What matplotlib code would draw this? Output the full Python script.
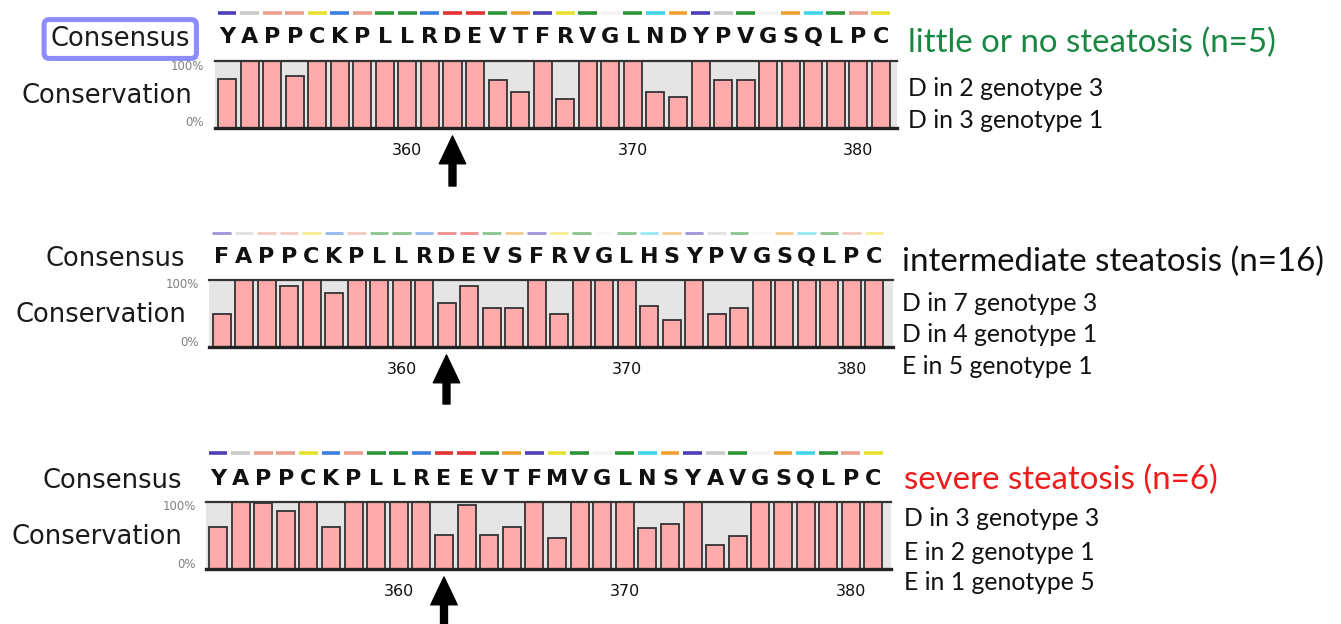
import matplotlib
matplotlib.use("Agg")
import matplotlib.pyplot as plt

W, H = 1341, 624

# residue numbers shown under the bars
positions = list(range(352, 382))
tick_positions = [360, 370, 380]
marked_position = 362

# consensus sequences per group
seq_little = "YAPPCKPLLRDEVTFRVGLNDYPVGSQLPC"
seq_inter = "FAPPCKPLLRDEVSFRVGLHSYPVGSQLPC"
seq_severe = "YAPPCKPLLREEVTFMVGLNSYAVGSQLPC"

# conservation (fraction) per position
cons_little = [0.73, 1, 1, 0.77, 1, 1, 1, 1, 1, 1, 1, 1, 0.71, 0.54, 1,
               0.44, 1, 1, 1, 0.53, 0.46, 1, 0.71, 0.71, 1, 1, 1, 1, 1, 1]
cons_inter = [0.49, 1, 1, 0.91, 1, 0.81, 1, 1, 1, 1, 0.66, 0.91, 0.585, 0.585, 1,
              0.49, 1, 1, 1, 0.61, 0.41, 1, 0.49, 0.585, 1, 1, 1, 1, 1, 1]
cons_severe = [0.62, 1, 0.98, 0.86, 1, 0.62, 1, 1, 1, 1, 0.51, 0.95, 0.51, 0.62, 1,
               0.465, 1, 1, 1, 0.61, 0.665, 1, 0.36, 0.49, 1, 1, 1, 1, 1, 1]

# colour strip above each column
strip_colors = ["#4a3fb8", "#c9c9c9", "#e8a08c", "#e8a08c", "#e4e030", "#3b7fe0",
                "#e8a08c", "#2b9434", "#2b9434", "#3b7fe0", "#e23232", "#e23232",
                "#2b9434", "#f0a030", "#4a3fb8", "#e4e030", "#2b9434", "#f6f2f2",
                "#2b9434", "#40d6e8", "#f0a030", "#4a3fb8", "#c9c9c9", "#2b9434",
                "#f6f2f2", "#f0a030", "#40d6e8", "#2b9434", "#e8a08c", "#e4e030"]

headings = ["little or no steatosis (n=5)", "intermediate steatosis (n=16)",
            "severe steatosis (n=6)"]
heading_colors = ["#1a8742", "#111111", "#ee1c1c"]
notes_little = ["D in 2 genotype 3", "D in 3 genotype 1"]
notes_inter = ["D in 7 genotype 3", "D in 4 genotype 1", "E in 5 genotype 1"]
notes_severe = ["D in 3 genotype 3", "E in 2 genotype 1", "E in 1 genotype 5"]

panels = [
    (seq_little, cons_little, notes_little),
    (seq_inter, cons_inter, notes_inter),
    (seq_severe, cons_severe, notes_severe),
]

# pixel layout of each panel
layout = [
    dict(gl=215, gr=897, first=218, pitch=22.55, bot=128, strip=13, letters=37,
         cons_y=39, cons_r=190, consv_y=96, consv_r=192, tip=136, tail=186,
         hx=908, hy=43, subs=[88, 120], pct_r=204, p100=67, p0=122, strip_alpha=1.0),
    dict(gl=209, gr=893, first=212.5, pitch=22.5, bot=347, strip=233, letters=257,
         cons_y=259, cons_r=185, consv_y=315, consv_r=186, tip=355, tail=404,
         hx=902, hy=262, subs=[303, 335, 367], pct_r=199, p100=285, p0=342, strip_alpha=0.55),
    dict(gl=206, gr=891, first=209, pitch=22.6, bot=569, strip=453, letters=479,
         cons_y=481, cons_r=182, consv_y=537, consv_r=182, tip=577, tail=630,
         hx=904, hy=480, subs=[518, 552, 583], pct_r=196, p100=507, p0=564, strip_alpha=1.0),
]
BAR_H = 67


def fx(x):
    return x / W


def fy(y):
    return 1 - y / H


fig = plt.figure(figsize=(W / 100, H / 100), dpi=100)

for k, ((seq, cons, notes), L) in enumerate(zip(panels, layout)):
    ax = fig.add_axes([fx(L["gl"]), fy(L["bot"]), (L["gr"] - L["gl"]) / W, BAR_H / H])
    c0 = L["first"] + 9
    ax.set_xlim(positions[0] + (L["gl"] - c0) / L["pitch"],
                positions[0] + (L["gr"] - c0) / L["pitch"])
    ax.set_ylim(0, 1)
    ax.set_facecolor("#e5e5e5")
    ax.bar(positions, cons, width=0.8, color="#ffabab", edgecolor="#333333", linewidth=1.3)

    for side in ["left", "right"]:
        ax.spines[side].set_visible(False)
    ax.spines["top"].set_color("#333333")
    ax.spines["top"].set_linewidth(1.6)
    ax.spines["bottom"].set_color("#222222")
    ax.spines["bottom"].set_linewidth(2.4)

    ax.set_yticks([])
    ax.set_xticks(tick_positions)
    ax.set_xticklabels([str(t) for t in tick_positions], fontsize=11.5, color="#111111")
    ax.tick_params(axis="x", length=0, pad=11)

    # colour strip and consensus letters above the bars
    y_strip = (L["bot"] - L["strip"]) / BAR_H
    for p, c in zip(positions, strip_colors):
        ax.plot([p - 0.42, p + 0.42], [y_strip, y_strip], color=c, lw=2.6 if k != 1 else 2.0,
                alpha=L["strip_alpha"], solid_capstyle="butt", clip_on=False)
    y_let = (L["bot"] - L["letters"]) / BAR_H
    for p, ch in zip(positions, seq):
        ax.text(p, y_let, ch, ha="center", va="center", fontsize=16, fontweight="bold",
                color="#111111", clip_on=False)

    # arrow at the marked residue
    ax.annotate("", xy=(marked_position, (L["bot"] - L["tip"]) / BAR_H),
                xytext=(marked_position, (L["bot"] - L["tail"]) / BAR_H),
                xycoords="data", textcoords="data", annotation_clip=False,
                arrowprops=dict(width=5, headwidth=19, headlength=20, color="black", shrink=0))

    # left labels
    box = None
    if k == 0:
        box = dict(boxstyle="round,pad=0.25,rounding_size=0.2", fc="white", ec="#8c8cff", lw=3.6)
    fig.text(fx(L["cons_r"]), fy(L["cons_y"]), "Consensus", ha="right", va="center",
             fontsize=18.5, color="#1a1a1a", bbox=box)
    fig.text(fx(L["consv_r"]), fy(L["consv_y"]), "Conservation", ha="right", va="center",
             fontsize=18.5, color="#1a1a1a")
    fig.text(fx(L["pct_r"]), fy(L["p100"]), "100%", ha="right", va="center",
             fontsize=8.5, color="#808080")
    fig.text(fx(L["pct_r"]), fy(L["p0"]), "0%", ha="right", va="center",
             fontsize=8.5, color="#808080")

    # right labels
    fig.text(fx(L["hx"]), fy(L["hy"]), headings[k], ha="left", va="center",
             fontsize=23.8, family="Lato", color=heading_colors[k])
    for y, note in zip(L["subs"], notes):
        fig.text(fx(L["hx"]), fy(y), note, ha="left", va="center",
                 fontsize=17.8, family="Lato", color="#111111")

fig.savefig("out.png", dpi=100, facecolor="white")
